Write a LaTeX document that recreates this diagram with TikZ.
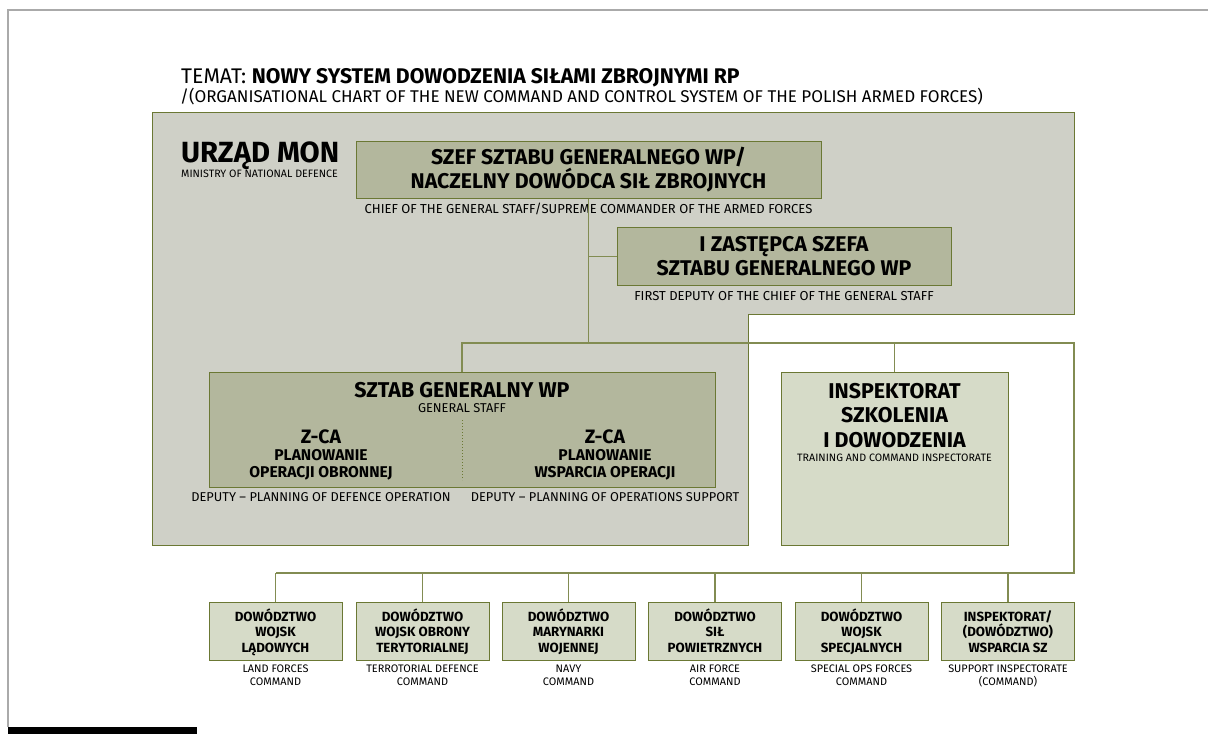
\documentclass[tikz,border=0pt]{standalone}
\usepackage{fontspec}
\setmainfont{Fira Sans}
\usetikzlibrary{positioning,calc}

\definecolor{monfill}{RGB}{207,208,199}
\definecolor{darkfill}{RGB}{179,183,157}
\definecolor{lightfill}{RGB}{214,219,200}
\definecolor{boxline}{RGB}{107,120,52}
\definecolor{linkcol}{RGB}{130,140,82}
\definecolor{framecol}{RGB}{170,170,170}

\tikzset{
  region/.style={draw=boxline, fill=monfill, line width=1pt},
  darkbox/.style={draw=boxline, fill=darkfill, line width=1pt, inner sep=0pt, align=center,
    font=\bfseries\fontsize{21.3}{24}\selectfont},
  lightbox/.style={draw=boxline, fill=lightfill, line width=1pt, inner sep=0pt, align=center},
  link/.style={draw=linkcol, line width=1.2pt},
  note/.style={inner sep=0pt, align=center, font=\fontsize{13}{14}\selectfont},
}

\begin{document}
\begin{tikzpicture}[x=1pt,y=-1pt]
    \useasboundingbox (0,0) rectangle (1208,734);

    % page frame
    \draw[framecol, line width=1.5pt] (1208,10) -- (8,10) -- (8,727);
    \fill[black] (8,727) rectangle (197,734);

    % title
    \node[anchor=base west, inner sep=0pt, font=\fontsize{21.2}{25}\selectfont] (title) at (181,83)
        {TEMAT: \textbf{NOWY SYSTEM DOWODZENIA SIŁAMI ZBROJNYMI RP}};
    \node[anchor=base west, inner sep=0pt, font=\fontsize{17}{18}\selectfont] (subtitle) at (180,102)
        {/(ORGANISATIONAL CHART OF THE NEW COMMAND AND CONTROL SYSTEM OF THE POLISH ARMED FORCES)};

    % urzad mon
    \draw[region] (152,112) -- (1074,112) -- (1074,314) -- (748,314) -- (748,545) -- (152,545) -- cycle;
    \node[anchor=base west, inner sep=0pt, font=\bfseries\fontsize{29.2}{30}\selectfont] (mon) at (181,162) {URZĄD MON};
    \node[anchor=base west, inner sep=0pt, font=\fontsize{10.7}{12}\selectfont] (monsub) at (181,177) {MINISTRY OF NATIONAL DEFENCE};

    \node[darkbox, minimum width=465pt, minimum height=57pt] (szef) at (588.5,170)
        {SZEF SZTABU GENERALNEGO WP/\\NACZELNY DOWÓDCA SIŁ ZBROJNYCH};
    \node[note, anchor=base] (szefsub) at (588.5,213) {CHIEF OF THE GENERAL STAFF/SUPREME COMMANDER OF THE ARMED FORCES};

    \node[darkbox, minimum width=334pt, minimum height=58pt] (zast) at (784,256.5)
        {I ZASTĘPCA SZEFA\\SZTABU GENERALNEGO WP};
    \node[note, anchor=base] (zastsub) at (784,300) {FIRST DEPUTY OF THE CHIEF OF THE GENERAL STAFF};

    % general staff
    \node[darkbox, minimum width=506pt, minimum height=115pt] (sztab) at (462,429.5) {};
    \node[anchor=base, inner sep=0pt, font=\bfseries\fontsize{21.4}{22}\selectfont] (sztabt) at (462,397) {SZTAB GENERALNY WP};
    \node[anchor=base, inner sep=0pt, font=\fontsize{12.8}{14}\selectfont] (sztabsub) at (462,412) {GENERAL STAFF};
    \draw[boxline, dotted, line width=1pt] (462,420) -- (462,480);
    \foreach \n/\x/\txt/\sub in {zl/321/OPERACJI OBRONNEJ/DEFENCE OPERATION, zr/605/WSPARCIA OPERACJI/OPERATIONS SUPPORT} {
        \node[anchor=base, inner sep=0pt, font=\bfseries\fontsize{19.4}{20}\selectfont] (\n) at (\x,443.5) {Z-CA};
        \node[anchor=north, inner sep=0pt, align=center, font=\bfseries\fontsize{15.6}{17}\selectfont] (\n-t) at (\x,449.5) {PLANOWANIE\\\txt};
        \node[note, anchor=base, font=\fontsize{12.8}{14}\selectfont] (\n-sub) at (\x,501) {DEPUTY – PLANNING OF \sub};
    }

    % training inspectorate
    \node[lightbox, minimum width=227pt, minimum height=173pt] (insp) at (894.5,458.5) {};
    \node[anchor=north, inner sep=0pt, align=center, font=\bfseries\fontsize{21.4}{24.3}\selectfont] (inspt) at (894.5,383)
        {INSPEKTORAT\\SZKOLENIA\\I DOWODZENIA};
    \node[anchor=base, inner sep=0pt, font=\fontsize{10.7}{12}\selectfont] (inspsub) at (894.5,461) {TRAINING AND COMMAND INSPECTORATE};

    % commands
    \coordinate (join) at (1074,343);
    \coordinate (busr) at (1074,573);
    \foreach \n/\x/\txt/\sub in {
        d1/275.5/{DOWÓDZTWO\\WOJSK\\LĄDOWYCH}/{LAND FORCES\\COMMAND},
        d2/422.5/{DOWÓDZTWO\\WOJSK OBRONY\\TERYTORIALNEJ}/{TERROTORIAL DEFENCE\\COMMAND},
        d3/568.5/{DOWÓDZTWO\\MARYNARKI\\WOJENNEJ}/{NAVY\\COMMAND},
        d4/715/{DOWÓDZTWO\\SIŁ\\POWIETRZNYCH}/{AIR FORCE\\COMMAND},
        d5/861.5/{DOWÓDZTWO\\WOJSK\\SPECJALNYCH}/{SPECIAL OPS FORCES\\COMMAND},
        d6/1008/{INSPEKTORAT/\\(DOWÓDZTWO)\\WSPARCIA SZ}/{SUPPORT INSPECTORATE\\(COMMAND)}} {
        \node[lightbox, minimum width=133pt, minimum height=58pt] (\n) at (\x,631) {};
        \node[anchor=north, inner sep=0pt, align=center, font=\bfseries\fontsize{13.3}{15.7}\selectfont] (\n-t) at (\x,608.3) {\vphantom{Ó}\txt};
        \node[note, anchor=north, font=\fontsize{10.9}{12.3}\selectfont] (\n-sub) at (\x,665) {\sub};
        \draw[link] (\n.north) -- (\n.north |- busr);
    }

    % connectors
    \draw[link] (szef.south) -- (szef.south |- join);
    \draw[link] (zast.west) -- (zast.west -| szef.south);
    \draw[link] (sztab.north) |- (join) -- (busr) -- (busr -| d1.north);
    \draw[link] (insp.north) -- (insp.north |- join);
\end{tikzpicture}
\end{document}
